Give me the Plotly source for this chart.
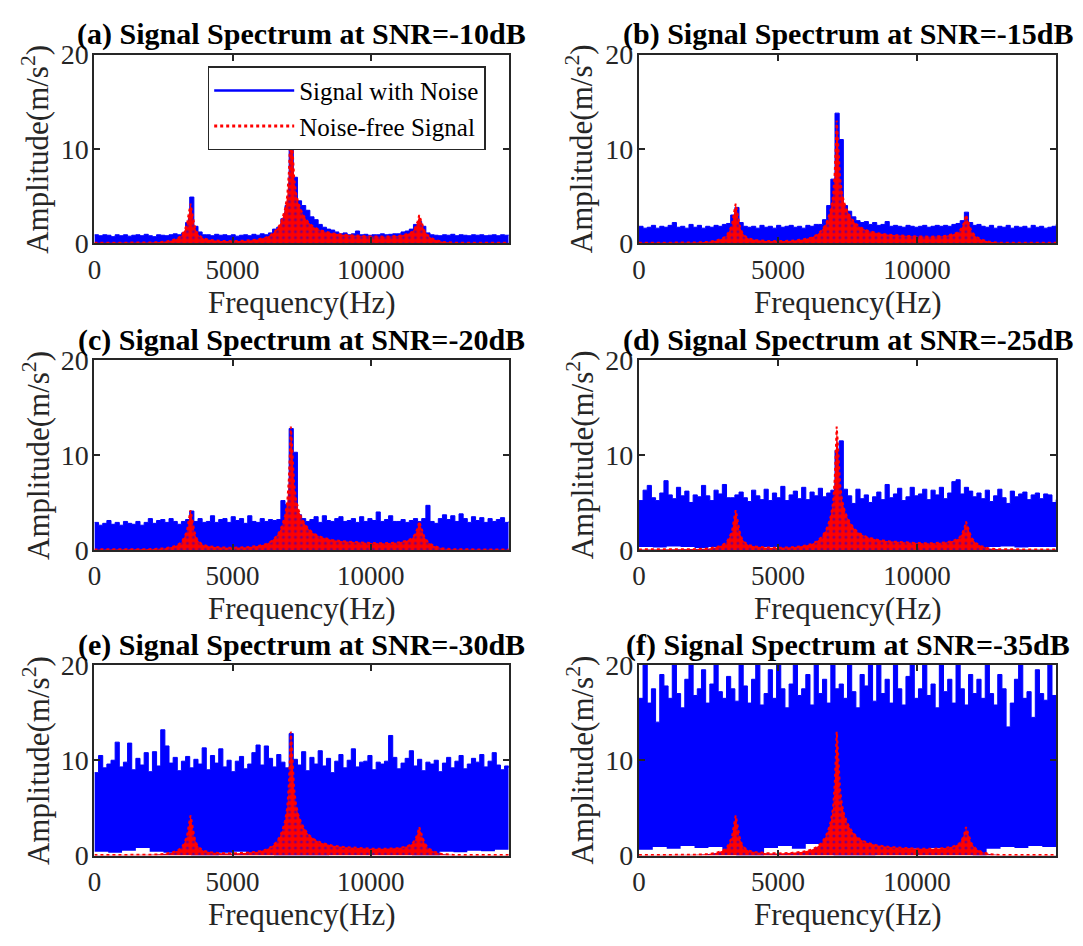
import plotly.graph_objects as go

# ---------------- data ----------------
NOISY_FREQ = list(range(0, 15001, 150))   # Hz, 101 samples
LOWER_FREQ = list(range(0, 15001, 500))   # Hz, 31 samples

UPPER_A = [0.9, 0.8, 0.9, 0.85, 0.7, 0.9, 0.8, 0.9, 0.75, 0.85, 0.9, 0.8, 0.95, 0.8, 0.7, 0.9, 0.85, 0.8, 0.9, 1.0, 0.9, 1.1,
           2.2, 4.9, 1.8, 1.2, 0.9,
           0.9, 0.8, 0.95, 0.85, 0.9, 0.8, 0.9, 0.75, 0.85, 0.9, 0.8, 0.95, 0.85, 1.0, 0.9, 1.1,
           1.5, 1.7, 2.6, 4.0, 11.5, 7.0, 4.5, 4.0, 3.5, 2.8, 2.5, 2.0, 1.7, 1.5, 1.4, 1.2, 1.0, 1.1, 0.9, 1.0, 1.3, 0.9,
           0.95, 0.85, 0.9, 0.9, 1.0, 0.9, 0.95, 1.0, 1.0, 1.2, 1.3, 1.5, 2.0, 2.3, 1.8, 1.1,
           0.9, 0.85, 0.8, 0.9, 0.85, 0.95, 0.8, 0.9, 0.85, 0.8, 0.9, 0.85, 0.9, 0.8, 0.85, 0.9, 0.8, 0.9, 0.85, 0.9]
UPPER_B = [1.8, 1.6, 1.7, 1.9, 1.6, 1.8, 1.7, 1.9, 2.2, 1.7, 1.8, 1.6, 2.0, 1.7, 1.9, 1.6, 1.8, 1.7, 1.9, 1.8, 2.0, 2.1,
           3.0, 3.8, 2.2, 1.8, 1.7,
           1.8, 1.6, 1.9, 1.7, 1.8, 1.6, 1.9, 1.7, 1.8, 1.9, 1.7, 1.8, 1.6, 1.9, 1.8, 2.0,
           2.0, 2.5, 4.0, 6.8, 13.8, 11.0, 4.0, 3.4, 2.8, 2.4, 2.2, 2.3, 2.0, 2.2, 1.9, 2.0, 2.3, 1.8, 1.9, 1.8, 1.7, 1.9,
           1.8, 1.7, 1.8, 1.9, 1.7, 1.8, 1.9, 1.8, 1.9, 1.8, 2.0, 2.1, 2.4, 3.3, 2.2, 1.9,
           2.0, 1.8, 1.7, 1.9, 1.6, 1.8, 1.7, 1.9, 1.6, 1.8, 1.7, 1.8, 1.6, 1.9, 1.7, 1.8, 1.6, 1.7, 1.8, 2.0]
UPPER_C = [2.9, 2.6, 2.8, 3.1, 2.7, 2.9, 2.6, 3.0, 2.8, 2.7, 3.0, 2.6, 2.9, 3.3, 2.8, 3.1, 3.2, 2.9, 3.3, 3.0, 2.7, 3.0,
           3.2, 4.1, 3.0, 3.3, 2.9,
           3.0, 3.6, 2.9, 3.2, 3.3, 2.9, 3.5, 3.1, 3.3, 2.8, 3.6, 3.0, 2.9, 3.3, 3.0, 3.2,
           3.1, 3.2, 5.2, 4.8, 12.8, 10.3, 3.7, 3.3, 3.0, 3.2, 3.5, 2.9, 3.6, 3.1, 3.0, 3.3, 3.5, 3.0, 3.1, 3.3,
           2.9, 3.5, 3.0, 3.3, 3.1, 4.0, 3.0, 3.2, 3.6, 3.0, 3.0, 3.2, 2.9, 3.1, 3.3, 3.0, 3.3, 4.7,
           3.0, 2.8, 3.3, 3.7, 3.2, 3.6, 3.0, 3.8, 3.3, 2.9, 3.5, 3.1, 3.4, 2.9, 3.3, 3.0, 3.2, 3.4, 2.9, 3.0]
UPPER_D = [5.2, 6.3, 6.8, 5.5, 5.2, 6.0, 7.3, 5.8, 5.4, 6.6, 5.7, 6.2, 5.0, 5.8, 5.6, 6.8, 5.7, 5.2, 6.3, 5.9, 6.9, 5.5,
           5.5, 5.8, 6.1, 5.5, 5.1,
           6.3, 5.7, 5.3, 6.4, 5.2, 6.0, 5.5, 6.7, 5.2, 5.8, 6.2, 5.4, 6.6, 5.3, 6.1, 5.7,
           6.5, 5.6, 6.0, 6.3, 10.5, 11.5, 6.4, 5.7, 4.9, 6.4, 5.4, 5.8, 5.0, 5.6, 6.1, 5.3, 6.9, 5.5, 5.9, 6.5,
           5.2, 5.6, 6.6, 5.7, 5.9, 6.4, 5.3, 6.3, 5.8, 6.6, 5.4, 6.0, 7.2, 7.4, 5.9, 6.6, 6.2, 5.6,
           6.0, 5.4, 6.3, 5.1, 5.7, 6.4, 5.5, 4.9, 6.2, 5.6, 5.9, 6.1, 5.3, 5.8, 6.0, 5.4, 5.9, 5.8, 5.0, 5.3]
UPPER_E = [8.7, 10.5, 9.2, 9.6, 10.0, 11.9, 9.3, 9.8, 11.8, 9.0, 10.2, 9.5, 10.8, 8.8, 10.9, 9.4, 13.2, 11.5, 9.7, 10.3, 8.9, 9.9,
           10.4, 9.2, 10.1, 9.6, 11.3,
           9.0, 10.5, 9.7, 11.2, 9.3, 10.0, 8.8, 9.9, 10.4, 9.1, 9.6, 10.8, 11.6, 9.5, 11.5, 10.2,
           9.3, 10.6, 9.8, 9.2, 12.8, 10.1, 9.5, 10.9, 8.9, 10.3, 9.6, 11.0, 9.4, 10.2, 8.7, 9.9, 10.6, 9.2, 10.0, 11.2,
           9.3, 9.8, 9.9, 10.5, 9.0, 9.8, 9.6, 9.9, 12.6, 10.3, 9.1, 9.7, 10.2, 11.0, 9.4, 10.1, 8.9, 9.8,
           9.6, 10.0, 8.8, 9.7, 10.3, 9.2, 9.9, 10.5, 9.1, 9.6, 10.2, 9.8, 10.6, 9.3, 9.9, 10.8, 9.5, 9.0, 9.4, 9.2]
UPPER_F = [16.5, 20, 16.0, 17.5, 14.0, 19.0, 17.8, 16.5, 20, 17.0, 15.5, 18.5, 20, 16.8, 17.5, 19.5, 16.0, 18.0, 20, 17.2, 16.5, 18.8,
           17.5, 16.2, 20, 17.8, 16.0,
           18.5, 20, 15.8, 17.0, 19.5, 16.5, 20, 17.5, 15.5, 18.0, 20, 16.8, 17.5, 19.0, 15.8, 20,
           17.0, 18.5, 16.0, 20, 17.5, 18.0, 16.5, 20, 17.2, 15.5, 19.0, 17.8, 20, 16.2, 20, 17.0, 18.5, 16.0, 20, 17.5,
           15.8, 18.8, 20, 16.5, 17.5, 20, 16.8, 18.0, 15.5, 20, 17.2, 18.5, 16.0, 20, 17.5, 15.8, 19.0, 17.0,
           18.5, 16.5, 20, 17.0, 15.8, 19.0, 17.5, 13.5, 16.0, 18.5, 20, 16.5, 17.2, 14.5, 19.5, 17.0, 16.3, 20, 16.8, 16.0]

LOWER_D = [0.3, 0.25, 0.35, 0.3, 0.2, 0.3, 0.0, 0.0, 0.25, 0.3, 0.2, 0.3, 0.25, 0.1, 0.0, 0.0,
           0.0, 0.1, 0.15, 0.1, 0.1, 0.15, 0.1, 0.0, 0.0, 0.3, 0.35, 0.25, 0.3, 0.3, 0.25]
LOWER_E = [0.4, 0.3, 0.5, 0.8, 0.4, 0.3, 0.4, 0.0, 0.0, 0.3, 0.4, 0.3, 0.2, 0.0, 0.0, 0.0,
           0.0, 0.2, 0.3, 0.25, 0.3, 0.2, 0.3, 0.0, 0.0, 0.4, 0.35, 0.5, 0.45, 0.6, 0.5]
LOWER_F = [0.6, 0.9, 0.7, 1.0, 0.8, 0.9, 0.6, 0.0, 0.0, 0.8, 1.0, 0.7, 1.2, 0.5, 0.0, 0.0,
           0.0, 0.6, 0.8, 0.7, 0.6, 0.8, 0.7, 0.6, 0.0, 0.7, 0.9, 0.8, 1.0, 0.9, 1.3]

CLEAN_FREQ = [0, 500, 1000, 1500, 2000, 2500, 2800, 3000, 3150, 3250, 3350, 3400, 3450, 3480, 3520, 3560,
              3620, 3700, 3800, 3950, 4200, 4600, 5000, 5500, 5900, 6200, 6400, 6550, 6700, 6800, 6900, 6980,
              7040, 7080, 7110, 7140, 7180, 7230, 7300, 7380, 7480, 7600, 7750, 7950, 8200, 8600, 9000, 9500,
              10000, 10500, 11000, 11300, 11500, 11620, 11700, 11760, 11800, 11860, 11950, 12100, 12300, 12600,
              13000, 14000, 15000]
CLEAN_AMP = [0.05, 0.05, 0.05, 0.05, 0.08, 0.15, 0.3, 0.5, 0.8, 1.3, 2.0, 2.9, 3.7, 4.2, 3.6, 2.7,
             1.9, 1.2, 0.8, 0.5, 0.35, 0.25, 0.22, 0.28, 0.4, 0.6, 0.9, 1.3, 1.9, 2.6, 3.6, 5.0,
             7.5, 10.5, 13.0, 11.8, 9.0, 7.0, 5.3, 4.3, 3.5, 2.8, 2.2, 1.7, 1.35, 1.05, 0.9, 0.8,
             0.72, 0.7, 0.78, 0.95, 1.2, 1.7, 2.3, 3.0, 2.6, 2.0, 1.3, 0.75, 0.4, 0.15,
             0.06, 0.05, 0.05]

TITLES = ["(a) Signal Spectrum at SNR=-10dB", "(b) Signal Spectrum at SNR=-15dB",
          "(c) Signal Spectrum at SNR=-20dB", "(d) Signal Spectrum at SNR=-25dB",
          "(e) Signal Spectrum at SNR=-30dB", "(f) Signal Spectrum at SNR=-35dB"]
UPPERS = [UPPER_A, UPPER_B, UPPER_C, UPPER_D, UPPER_E, UPPER_F]
LOWERS = [None, None, None, LOWER_D, LOWER_E, LOWER_F]
X_TICKS = [0, 5000, 10000]
X_TICK_TEXT = ["0", "5000", "10000"]
Y_TICKS = [0, 10, 20]
Y_TICK_TEXT = ["0", "10", "20"]
LEGEND_NAMES = ["Signal with Noise", "Noise-free Signal"]

# ---------------- layout geometry ----------------
W, H = 1083, 946
COLS = [(88, 505), (636, 1056)]
ROWS = [(41, 236), (357, 553), (672, 869)]
FONT = "Liberation Serif, Times New Roman, serif"
AX = "#262626"
BLUE = "rgb(0,0,255)"
RED = "rgb(255,0,0)"


def px(x):
    return x / W


def py(y):
    return 1 - y / H


fig = go.Figure()
annotations = []
layout_axes = {}

for i in range(6):
    r, c = divmod(i, 2)
    sfx = "" if i == 0 else str(i + 1)
    xa, ya = "x" + sfx, "y" + sfx
    if LOWERS[i] is None:
        fig.add_trace(go.Scatter(x=NOISY_FREQ, y=UPPERS[i], mode="lines",
                                 line=dict(color=BLUE, width=1, shape="hv"),
                                 fill="tozeroy", fillcolor=BLUE,
                                 xaxis=xa, yaxis=ya, showlegend=False, hoverinfo="skip"))
    else:
        fig.add_trace(go.Scatter(x=LOWER_FREQ, y=LOWERS[i], mode="lines",
                                 line=dict(color="rgba(0,0,0,0)", width=0, shape="hv"),
                                 xaxis=xa, yaxis=ya, showlegend=False, hoverinfo="skip"))
        fig.add_trace(go.Scatter(x=NOISY_FREQ, y=UPPERS[i], mode="lines",
                                 line=dict(color=BLUE, width=1, shape="hv"),
                                 fill="tonexty", fillcolor=BLUE,
                                 xaxis=xa, yaxis=ya, showlegend=False, hoverinfo="skip"))
    fig.add_trace(go.Scatter(x=CLEAN_FREQ, y=CLEAN_AMP, mode="lines",
                             line=dict(color=RED, width=2, dash="dot"),
                             fill="tozeroy", fillcolor=RED,
                             fillpattern=dict(shape=".", bgcolor=RED, fgcolor=BLUE,
                                              size=6, solidity=0.2),
                             xaxis=xa, yaxis=ya, showlegend=False, hoverinfo="skip"))

    x0, x1 = COLS[c]
    y0, y1 = ROWS[r]
    common = dict(showline=True, mirror="ticks", linecolor=AX, linewidth=2,
                  ticks="inside", ticklen=6, tickwidth=1.5, tickcolor=AX,
                  showgrid=False, zeroline=False)
    layout_axes["xaxis" + sfx] = dict(domain=[px(x0), px(x1)], range=[0, 15000],
                                      tickvals=X_TICKS, ticktext=X_TICK_TEXT,
                                      tickfont=dict(family=FONT, size=27, color=AX),
                                      anchor=ya, ticklabelstandoff=1, **common)
    layout_axes["yaxis" + sfx] = dict(domain=[py(y1), py(y0)], range=[0, 20],
                                      tickvals=Y_TICKS, ticktext=Y_TICK_TEXT,
                                      tickfont=dict(family=FONT, size=28, color=AX),
                                      anchor=xa, ticklabelstandoff=-2, **common)

    cx = (x0 + x1) / 2
    annotations.append(dict(text="<b>" + TITLES[i] + "</b>", x=px(cx), y=py(y0 - 21),
                            xref="paper", yref="paper", showarrow=False,
                            xanchor="center", yanchor="middle",
                            font=dict(family=FONT, size=30, color="black")))
    annotations.append(dict(text="Frequency(Hz)", x=px(cx), y=py(y1 + 61),
                            xref="paper", yref="paper", showarrow=False,
                            xanchor="center", yanchor="middle",
                            font=dict(family=FONT, size=31, color=AX)))
    annotations.append(dict(text="Amplitude(m/s<sup>2</sup>)", x=px(x0 - 59), y=py((y0 + y1) / 2),
                            xref="paper", yref="paper", showarrow=False, textangle=-90,
                            xanchor="center", yanchor="middle",
                            font=dict(family=FONT, size=31, color=AX)))

# legend-only entries (panel a)
fig.add_trace(go.Scatter(x=[None], y=[None], mode="lines", name=LEGEND_NAMES[0],
                         line=dict(color=BLUE, width=2.5), xaxis="x", yaxis="y"))
fig.add_trace(go.Scatter(x=[None], y=[None], mode="lines", name=LEGEND_NAMES[1],
                         line=dict(color=RED, width=3, dash="dot"), xaxis="x", yaxis="y"))

fig.update_layout(
    width=W, height=H, autosize=False,
    margin=dict(l=0, r=0, t=0, b=0),
    paper_bgcolor="white", plot_bgcolor="white",
    annotations=annotations,
    legend=dict(x=px(202), y=py(53), xanchor="left", yanchor="top",
                bgcolor="white", bordercolor=AX, borderwidth=1.5,
                font=dict(family=FONT, size=25, color="black"),
                itemwidth=80, tracegroupgap=0, traceorder="normal"),
    **layout_axes,
)

fig.write_html("out.html", post_script="document.body.style.margin='0px';")
